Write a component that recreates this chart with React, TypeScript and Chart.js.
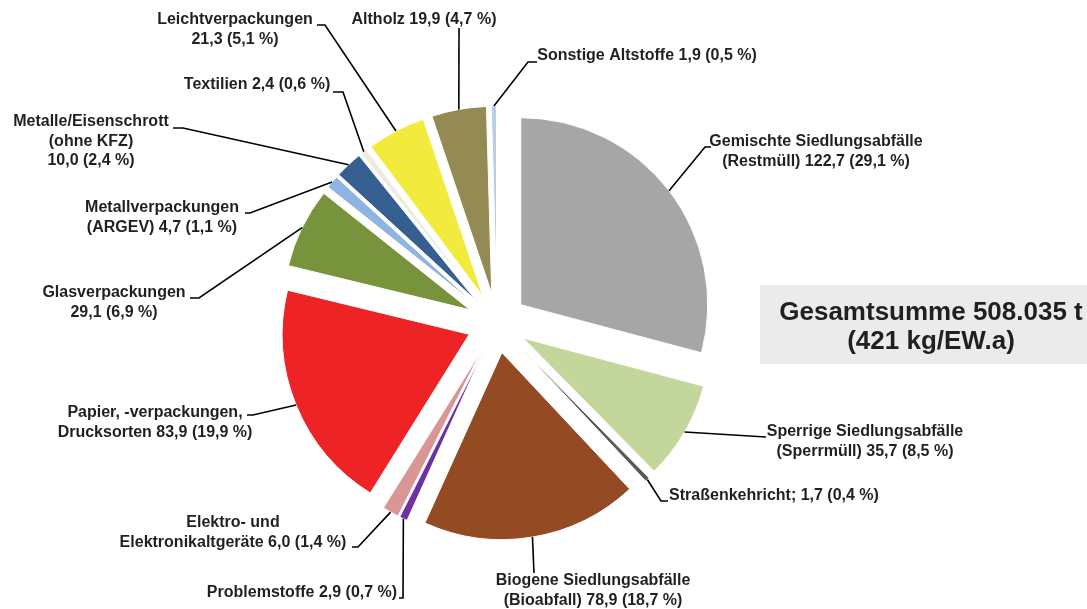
import React, { useEffect, useRef } from "react";
import { Chart, registerables } from "chart.js";

Chart.register(...registerables);

// ---- data ----
const categories = [
  "Gemischte Siedlungsabfälle (Restmüll)",
  "Sperrige Siedlungsabfälle (Sperrmüll)",
  "Straßenkehricht",
  "Biogene Siedlungsabfälle (Bioabfall)",
  "Problemstoffe",
  "Elektro- und Elektronikaltgeräte",
  "Papier, -verpackungen, Drucksorten",
  "Glasverpackungen",
  "Metallverpackungen (ARGEV)",
  "Metalle/Eisenschrott (ohne KFZ)",
  "Textilien",
  "Leichtverpackungen",
  "Altholz",
  "Sonstige Altstoffe",
];
const values = [122.7, 35.7, 1.7, 78.9, 2.9, 6.0, 83.9, 29.1, 4.7, 10.0, 2.4, 21.3, 19.9, 1.9];
const labelTemplates = [
  ["Gemischte Siedlungsabfälle", "(Restmüll) {v} ({p} %)"],
  ["Sperrige Siedlungsabfälle", "(Sperrmüll) {v} ({p} %)"],
  ["Straßenkehricht; {v} ({p} %)"],
  ["Biogene Siedlungsabfälle", "(Bioabfall) {v} ({p} %)"],
  ["Problemstoffe {v} ({p} %)"],
  ["Elektro- und", "Elektronikaltgeräte {v} ({p} %)"],
  ["Papier, -verpackungen,", "Drucksorten {v} ({p} %)"],
  ["Glasverpackungen", "{v} ({p} %)"],
  ["Metallverpackungen", "(ARGEV) {v} ({p} %)"],
  ["Metalle/Eisenschrott", "(ohne KFZ)", "{v} ({p} %)"],
  ["Textilien {v} ({p} %)"],
  ["Leichtverpackungen", "{v} ({p} %)"],
  ["Altholz {v} ({p} %)"],
  ["Sonstige Altstoffe {v} ({p} %)"],
];
const totalLines = ["Gesamtsumme 508.035 t", "(421 kg/EW.a)"];

// ---- styles ----
const colors = [
  "#a6a6a6",
  "#c3d69b",
  "#595959",
  "#944a23",
  "#7030a0",
  "#d99694",
  "#ee2326",
  "#77933c",
  "#8eb4e3",
  "#365f91",
  "#eeece1",
  "#f2ea3d",
  "#948a54",
  "#b9cde5",
];

// label layout: text centre x, first line centre y, leader waypoints (after slice edge)
const labelLayout: { x: number; y: number; pts: number[][] }[] = [
  { x: 816, y: 142, pts: [[705, 147], [711, 147]] },
  { x: 865, y: 432, pts: [[766, 437]] },
  { x: 774, y: 496, pts: [[661, 501], [668, 501]] },
  { x: 593, y: 581, pts: [[534, 573]] },
  { x: 302, y: 593, pts: [[403, 598], [399, 598]] },
  { x: 233, y: 523, pts: [[358, 547], [352, 547]] },
  { x: 155, y: 413, pts: [[253, 415], [247, 415]] },
  { x: 114, y: 293, pts: [[199, 298], [190, 298]] },
  { x: 162, y: 208, pts: [[250, 213], [245, 213]] },
  { x: 91, y: 122, pts: [[183, 128], [173, 128]] },
  { x: 257, y: 85, pts: [[343, 92], [333, 92]] },
  { x: 235, y: 20, pts: [[325, 25], [317, 25]] },
  { x: 424, y: 20, pts: [[459, 28]] },
  { x: 647, y: 56, pts: [[528, 62], [537, 62]] },
];
const EXPLODE = 30;
const FONT = "bold 16px 'Liberation Sans', Arial, sans-serif";
const LINE_H = 19.5;
const TEXT_COLOR = "#231f20";

const total = values.reduce((a, b) => a + b, 0);
const fmt = (n: number) => n.toFixed(1).replace(".", ",");
const labelLines = labelTemplates.map((lines, i) =>
  lines.map((l) =>
    l.replace("{v}", fmt(values[i])).replace("{p}", fmt((values[i] / total) * 100))
  )
);

const explodePlugin = {
  id: "explodeLabels",
  beforeDatasetsDraw(chart: any) {
    const meta = chart.getDatasetMeta(0);
    const ca = chart.chartArea;
    const cx = (ca.left + ca.right) / 2;
    const cy = (ca.top + ca.bottom) / 2;
    meta.data.forEach((arc: any) => {
      const mid = (arc.startAngle + arc.endAngle) / 2;
      arc.x = cx + EXPLODE * Math.cos(mid);
      arc.y = cy + EXPLODE * Math.sin(mid);
    });
  },
  afterDatasetsDraw(chart: any) {
    const ctx = chart.ctx;
    const meta = chart.getDatasetMeta(0);
    ctx.save();
    // leader lines
    ctx.strokeStyle = "#000000";
    ctx.lineWidth = 1.6;
    meta.data.forEach((arc: any, i: number) => {
      const mid = (arc.startAngle + arc.endAngle) / 2;
      const sx = arc.x + arc.outerRadius * Math.cos(mid);
      const sy = arc.y + arc.outerRadius * Math.sin(mid);
      ctx.beginPath();
      ctx.moveTo(sx, sy);
      labelLayout[i].pts.forEach((p) => ctx.lineTo(p[0], p[1]));
      ctx.stroke();
    });
    // labels
    ctx.font = FONT;
    ctx.fillStyle = TEXT_COLOR;
    ctx.textAlign = "center";
    ctx.textBaseline = "middle";
    labelLines.forEach((lines, i) => {
      const L = labelLayout[i];
      lines.forEach((t, j) => ctx.fillText(t, L.x, L.y + j * LINE_H));
    });
    // total box
    ctx.fillStyle = "#ebebeb";
    ctx.fillRect(760, 285, 327, 79);
    ctx.fillStyle = TEXT_COLOR;
    ctx.font = "bold 26px 'Liberation Sans', Arial, sans-serif";
    ctx.fillText(totalLines[0], 931, 313);
    ctx.fillText(totalLines[1], 931, 342);
    ctx.restore();
  },
};

export default function App() {
  const ref = useRef<HTMLCanvasElement | null>(null);
  useEffect(() => {
    if (!ref.current) return;
    const chart = new Chart(ref.current, {
      type: "pie",
      data: {
        labels: categories,
        datasets: [
          {
            data: values,
            backgroundColor: colors,
            borderColor: "#ffffff",
            borderWidth: 1,
          },
        ],
      },
      options: {
        responsive: false,
        animation: false,
        events: [],
        radius: 187,
        layout: { padding: { left: 310, right: 403, top: 136, bottom: 99 } },
        plugins: { legend: { display: false }, tooltip: { enabled: false } },
      } as any,
      plugins: [explodePlugin],
    });
    return () => chart.destroy();
  }, []);
  return (
    <canvas
      ref={ref}
      width={1087}
      height={609}
      style={{ position: "absolute", left: 0, top: 0, width: 1087, height: 609 }}
    />
  );
}
